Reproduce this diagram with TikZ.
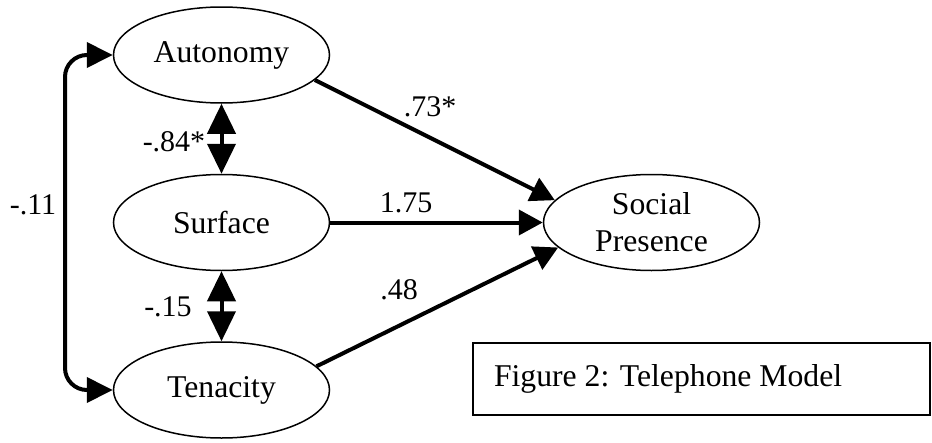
\documentclass[tikz,border=0pt]{standalone}
\usepackage{fontspec}
\setmainfont{Liberation Serif}
\usetikzlibrary{arrows.meta,shapes.geometric}
\begin{document}
\begin{tikzpicture}[x=1pt,y=-1pt,
  latent/.style={ellipse, draw, line width=1.5pt, minimum width=216pt, minimum height=96pt,
    inner sep=0pt, align=center, font=\fontsize{31.7}{37}\selectfont},
  pathar/.style={line width=4pt, -{Triangle[length=24pt,width=25pt]}},
  covar/.style={line width=4pt, {Triangle[length=30pt,width=28pt]}-{Triangle[length=30pt,width=28pt]}},
  sidecov/.style={line width=4pt, rounded corners=22pt, {Triangle[length=26pt,width=25pt]}-{Triangle[length=26pt,width=25pt]}},
  lbl/.style={font=\fontsize{30}{36}\selectfont, inner sep=0pt}]
\useasboundingbox (0,0) rectangle (932,442);

\node[latent] (aut) at (221.5,55) {Autonomy};
\node[latent] (sur) at (221.5,222.5) {Surface};
\node[latent] (ten) at (221.5,390) {Tenacity};
\node[latent] (sp) at (651.5,222.5) {Social\\Presence};

\node[draw, line width=1.5pt, minimum width=457pt, minimum height=72pt, inner sep=0pt,
  font=\fontsize{31.7}{37}\selectfont] (fig) at (701.5,379)
  {\makebox[415pt][l]{Figure 2: Telephone Model}};

\draw[pathar] (aut.-15) -- (sp.167);
\draw[pathar] (sur.east) -- (sp.west);
\draw[pathar] (ten.14) -- (sp.-165);

\draw[covar] (aut.south) -- (sur.north);
\draw[covar] (sur.south) -- (ten.north);

\coordinate (cl) at (65,222.5);
\draw[sidecov] (aut.west) -| (cl) |- (ten.west);

\node[lbl] (l84) at (174,142) {-.84*};
\node[lbl] (l15) at (168,307) {-.15};
\node[lbl] (l11) at (33,205) {-.11};
\node[lbl] (l73) at (430,107) {.73*};
\node[lbl] (l175) at (406,203) {1.75};
\node[lbl] (l48) at (399,290) {.48};
\end{tikzpicture}
\end{document}
